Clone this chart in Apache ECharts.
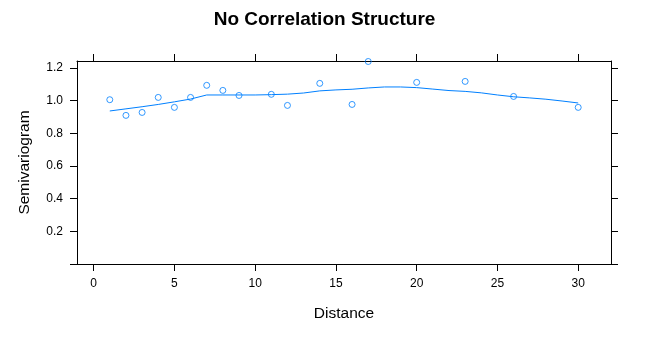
<!DOCTYPE html>
<html>
<head>
<meta charset="utf-8">
<script src="https://cdn.jsdelivr.net/npm/echarts@6/dist/echarts.min.js"></script>
<style>
html,body{margin:0;padding:0;background:#fff;}
#c{width:649px;height:343px;}
</style>
</head>
<body>
<div id="c"></div>
<script>
// Empirical semivariogram points
const distances = [1, 2, 3, 4, 5, 6, 7, 8, 9, 11, 12, 14, 16, 17, 20, 23, 26, 30];
const semivar   = [1.006, 0.910, 0.928, 1.020, 0.959, 1.020, 1.094, 1.063, 1.032, 1.039, 0.971, 1.106, 0.977, 1.240, 1.112, 1.118, 1.026, 0.959];
// Smooth (loess) curve
const smoothX = [1, 2, 3, 4, 5, 6, 7, 8, 9, 10, 11, 12, 13, 14, 15, 16, 17, 18, 19, 20, 21, 22, 23, 24, 25, 26, 27, 28, 29, 30];
const smoothY = [0.937, 0.950, 0.963, 0.977, 0.993, 1.010, 1.035, 1.035, 1.035, 1.035, 1.037, 1.040, 1.047, 1.060, 1.066, 1.070, 1.078, 1.084, 1.084, 1.080, 1.071, 1.062, 1.057, 1.048, 1.035, 1.024, 1.017, 1.009, 0.998, 0.986];
// Tick values
const xTicks = [0, 5, 10, 15, 20, 25, 30];
const yTicks = [0, 0.2, 0.4, 0.6, 0.8, 1.0, 1.2];
const yLabels = [0.2, 0.4, 0.6, 0.8, 1.0, 1.2];

const FONT = 'Liberation Sans';
const XMIN = -1.03, XMAX = 32.03, YMIN = 0, YMAX = 1.243;

function xAx(pos, showLabels, name) {
  return {
    type: 'value', position: pos, min: XMIN, max: XMAX,
    splitLine: {show: false},
    axisLine: {show: true, onZero: false, lineStyle: {color: '#000', width: 1}},
    axisTick: {show: true, inside: false, length: 7, customValues: xTicks, lineStyle: {color: '#000'}},
    axisLabel: {show: showLabels, customValues: xTicks, margin: 14, color: '#000', fontSize: 12, fontFamily: FONT,
      formatter: v => String(Math.round(v))},
    name: name || '', nameLocation: 'middle', nameGap: 42,
    nameTextStyle: {color: '#000', fontSize: 15.5, fontFamily: FONT}
  };
}
function yAx(pos, showLabels, name) {
  return {
    type: 'value', position: pos, min: YMIN, max: YMAX,
    splitLine: {show: false},
    axisLine: {show: true, onZero: false, lineStyle: {color: '#000', width: 1}},
    axisTick: {show: true, inside: false, length: 7, customValues: yTicks, lineStyle: {color: '#000'}},
    axisLabel: {show: showLabels, customValues: yLabels, margin: 14, color: '#000', fontSize: 12, fontFamily: FONT,
      formatter: v => v.toFixed(1)},
    name: name || '', nameLocation: 'middle', nameGap: 44, nameRotate: 90,
    nameTextStyle: {color: '#000', fontSize: 15.5, fontFamily: FONT}
  };
}

const chart = echarts.init(document.getElementById('c'), null, {renderer: 'canvas'});
chart.setOption({
  backgroundColor: '#fff',
  animation: false,
  title: {
    text: 'No Correlation Structure', left: 'center', top: 5,
    textStyle: {color: '#000', fontSize: 19, fontWeight: 'bold', fontFamily: FONT}
  },
  grid: {left: 77, right: 38, top: 61, bottom: 79, show: false},
  xAxis: [xAx('bottom', true, 'Distance'), xAx('top', false)],
  yAxis: [yAx('left', true, 'Semivariogram'), yAx('right', false)],
  series: [
    {
      type: 'line', xAxisIndex: 0, yAxisIndex: 0,
      data: smoothX.map((x, i) => [x, smoothY[i]]),
      showSymbol: false, symbol: 'none', smooth: false,
      lineStyle: {color: '#0080ff', width: 1}
    },
    {
      type: 'scatter', xAxisIndex: 0, yAxisIndex: 0,
      data: distances.map((x, i) => [x, semivar[i]]),
      symbol: 'circle', symbolSize: 6,
      itemStyle: {color: 'rgba(0,0,0,0)', borderColor: '#0080ff', borderWidth: 1}
    }
  ]
});
</script>
</body>
</html>
